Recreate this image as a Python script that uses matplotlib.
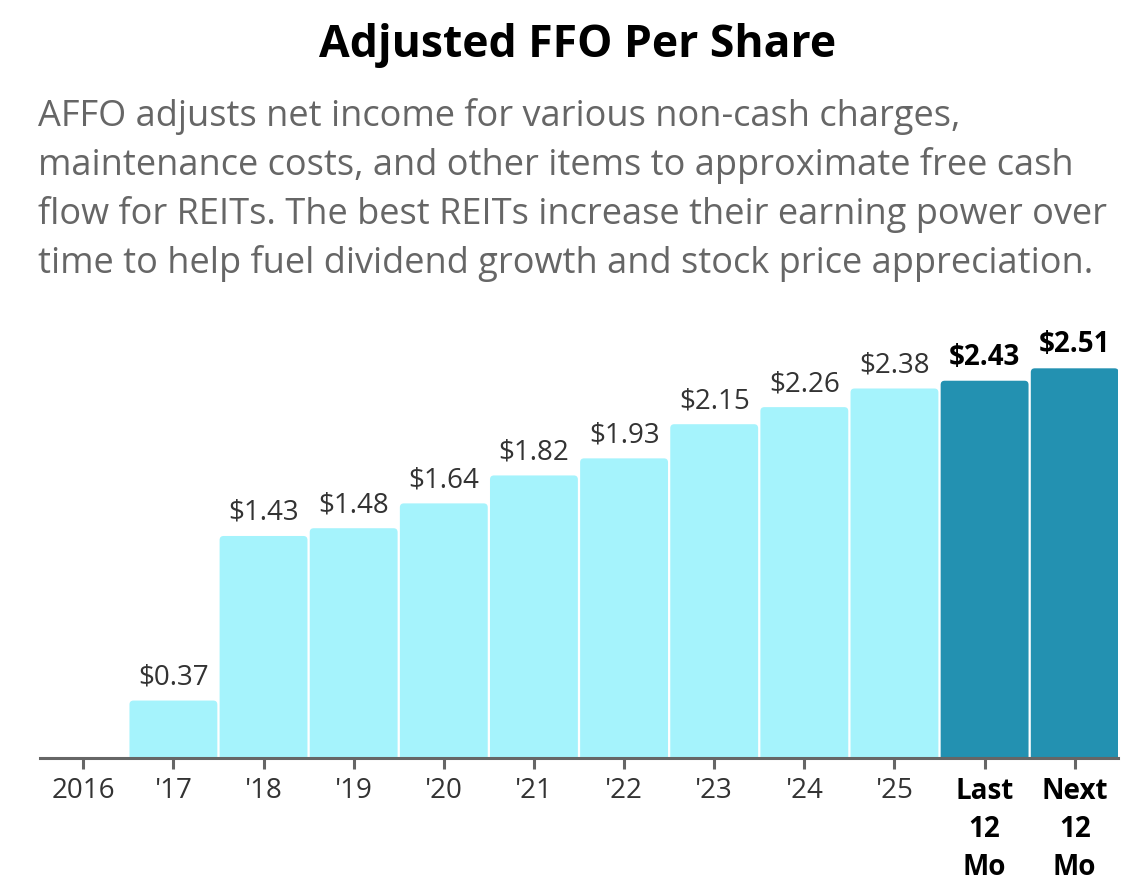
import matplotlib.pyplot as plt
from matplotlib.patches import FancyBboxPatch

plt.rcParams['font.family'] = ['Open Sans', 'DejaVu Sans']

# data
categories = ['2016', "'17", "'18", "'19", "'20", "'21", "'22", "'23", "'24", "'25",
              'Last\n12\nMo', 'Next\n12\nMo']
affo = [0.0, 0.37, 1.43, 1.48, 1.64, 1.82, 1.93, 2.15, 2.26, 2.38, 2.43, 2.51]
highlight = [False] * 10 + [True, True]

LIGHT = '#a5f3fc'
DARK = '#2391b1'

fig = plt.figure(figsize=(11.34, 8.94), dpi=100)
ax = fig.add_axes([40 / 1134, 136 / 894, 1078 / 1134, 458 / 894])

x = list(range(len(categories)))
bars = ax.bar(x, affo, width=0.975, color=[DARK if h else LIGHT for h in highlight])

ax.set_xlim(-0.48, len(categories) - 0.52)
ax.set_ylim(0, 2.95)

# swap plain bars for ones with slightly rounded top corners
px_x = (ax.get_xlim()[1] - ax.get_xlim()[0]) / 1078
px_y = (ax.get_ylim()[1] - ax.get_ylim()[0]) / 458
r = 4 * px_x
for b, v, h in zip(bars, affo, highlight):
    b.set_visible(False)
    if v <= 0:
        continue
    p = FancyBboxPatch((b.get_x(), -r * px_y / px_x), b.get_width(), v + r * px_y / px_x,
                       boxstyle=f'round,pad=0,rounding_size={r}',
                       mutation_aspect=px_y / px_x,
                       facecolor=DARK if h else LIGHT, edgecolor='none')
    ax.add_patch(p)
    ax.text(b.get_x() + b.get_width() / 2, v + 9 * px_y, f'${v:.2f}',
            ha='center', va='bottom', fontsize=20,
            color='black' if h else '#333333',
            fontweight='bold' if h else 'normal')

for s in ['top', 'right', 'left']:
    ax.spines[s].set_visible(False)
ax.spines['bottom'].set_color('#666666')
ax.spines['bottom'].set_linewidth(2.2)
ax.set_yticks([])
ax.set_xticks(x)
ax.set_xticklabels(categories, fontsize=20, color='#333333', linespacing=1.4)
for lbl, h in zip(ax.get_xticklabels(), highlight):
    if h:
        lbl.set_fontweight('bold')
        lbl.set_color('black')
ax.tick_params(axis='x', length=8, width=2.2, color='#666666', pad=6)

fig.text(578 / 1134, 1 - 46 / 894, 'Adjusted FFO Per Share', ha='center', va='center',
         fontsize=32, fontweight='bold', color='black')

subtitle = ('AFFO adjusts net income for various non-cash charges,\n'
            'maintenance costs, and other items to approximate free cash\n'
            'flow for REITs. The best REITs increase their earning power over\n'
            'time to help fuel dividend growth and stock price appreciation.')
fig.text(38 / 1134, 1 - 98 / 894, subtitle, ha='left', va='top', fontsize=26,
         color='#666666', linespacing=1.43)

fig.savefig('out.png', dpi=100)
